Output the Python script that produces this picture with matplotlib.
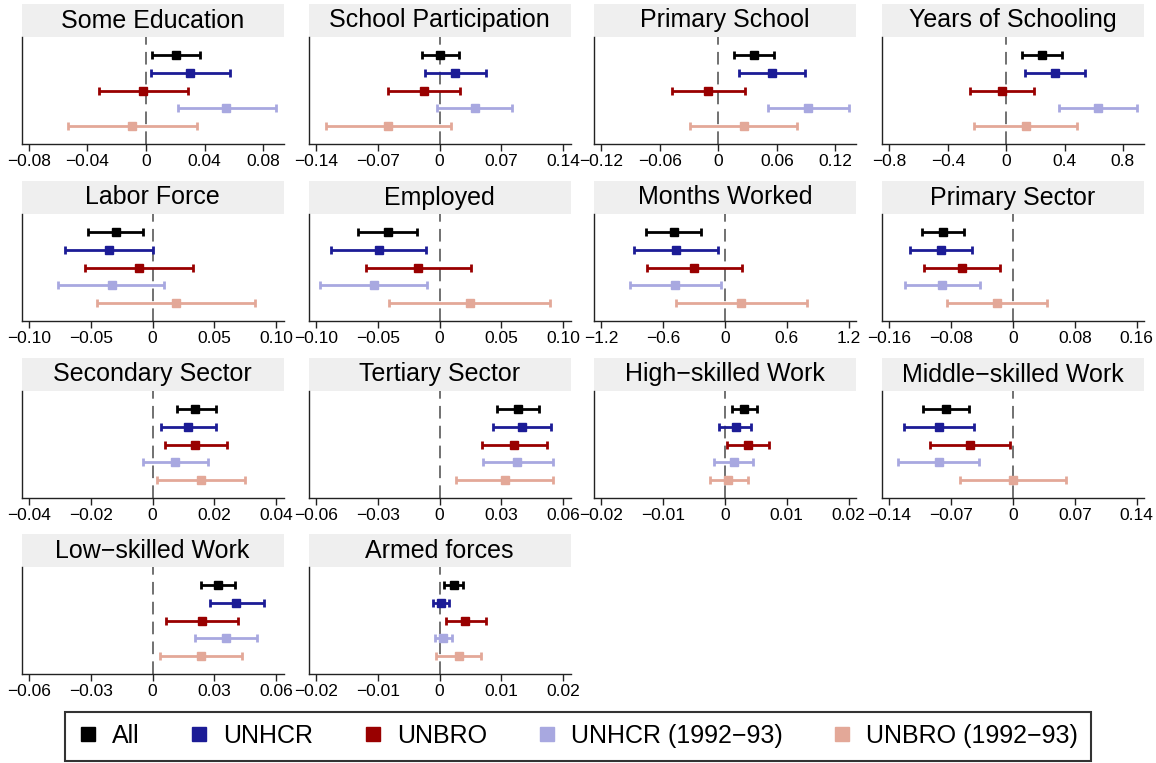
import numpy as np
import matplotlib
matplotlib.use("Agg")
import matplotlib.pyplot as plt
from matplotlib.patches import Rectangle
from matplotlib.lines import Line2D

plt.rcParams['font.family'] = ['Liberation Sans', 'DejaVu Sans']

# ---- data (estimate, lower, upper) per outcome, series in order below ----
series = ["All", "UNHCR", "UNBRO", "UNHCR (1992\u221293)", "UNBRO (1992\u221293)"]
colors = ["#000000", "#1c1c96", "#990000", "#a8a8e0", "#e3a898"]

titles = ["Some Education", "School Participation", "Primary School", "Years of Schooling",
          "Labor Force", "Employed", "Months Worked", "Primary Sector",
          "Secondary Sector", "Tertiary Sector", "High\u2212skilled Work", "Middle\u2212skilled Work",
          "Low\u2212skilled Work", "Armed forces"]

tick_max = [0.08, 0.14, 0.12, 0.8,
            0.10, 0.10, 1.2, 0.16,
            0.04, 0.06, 0.02, 0.14,
            0.06, 0.02]
tick_dec = [2, 2, 2, 1,
            2, 2, 1, 2,
            2, 2, 2, 2,
            2, 2]

est = [
    [0.0206, 0.0304, -0.0020, 0.0550, -0.0096],
    [0.0008, 0.0178, -0.0173, 0.0398, -0.0580],
    [0.0362, 0.0546, -0.0103, 0.0923, 0.0260],
    [0.247, 0.336, -0.031, 0.627, 0.135],
    [-0.0294, -0.0349, -0.0109, -0.0331, 0.0194],
    [-0.0420, -0.0492, -0.0172, -0.0532, 0.0245],
    [-0.494, -0.476, -0.299, -0.483, 0.159],
    [-0.0901, -0.0935, -0.0660, -0.0916, -0.0212],
    [0.0139, 0.0116, 0.0139, 0.0074, 0.0156],
    [0.0382, 0.0402, 0.0362, 0.0376, 0.0318],
    [0.0030, 0.0017, 0.0038, 0.0014, 0.0005],
    [-0.0759, -0.0843, -0.0485, -0.0843, 0.0000],
    [0.0318, 0.0405, 0.0242, 0.0356, 0.0235],
    [0.0023, 0.0002, 0.0042, 0.0006, 0.0031],
]
lower = [
    [0.0043, 0.0036, -0.0320, 0.0218, -0.0536],
    [-0.0203, -0.0160, -0.0580, -0.0030, -0.1290],
    [0.0156, 0.0210, -0.0480, 0.0511, -0.0290],
    [0.112, 0.130, -0.250, 0.362, -0.217],
    [-0.0522, -0.0704, -0.0543, -0.0762, -0.0449],
    [-0.0662, -0.0879, -0.0598, -0.0964, -0.0411],
    [-0.764, -0.879, -0.757, -0.926, -0.479],
    [-0.1176, -0.1330, -0.1147, -0.1402, -0.0853],
    [0.0078, 0.0028, 0.0041, -0.0032, 0.0013],
    [0.0278, 0.0260, 0.0205, 0.0209, 0.0082],
    [0.0011, -0.0009, 0.0004, -0.0017, -0.0025],
    [-0.1016, -0.1240, -0.0940, -0.1303, -0.0603],
    [0.0235, 0.0280, 0.0067, 0.0204, 0.0036],
    [0.0008, -0.0010, 0.0010, -0.0008, -0.0005],
]
upper = [
    [0.0370, 0.0572, 0.0284, 0.0889, 0.0349],
    [0.0220, 0.0524, 0.0233, 0.0825, 0.0127],
    [0.0572, 0.0889, 0.0271, 0.1335, 0.0805],
    [0.382, 0.543, 0.189, 0.894, 0.484],
    [-0.0073, 0.0003, 0.0325, 0.0097, 0.0831],
    [-0.0181, -0.0106, 0.0254, -0.0100, 0.0897],
    [-0.231, -0.072, 0.166, -0.036, 0.800],
    [-0.0636, -0.0525, -0.0169, -0.0424, 0.0438],
    [0.0204, 0.0207, 0.0240, 0.0179, 0.0298],
    [0.0484, 0.0542, 0.0522, 0.0551, 0.0551],
    [0.0051, 0.0042, 0.0072, 0.0046, 0.0037],
    [-0.0502, -0.0447, -0.0030, -0.0380, 0.0595],
    [0.0402, 0.0540, 0.0415, 0.0509, 0.0436],
    [0.0038, 0.0015, 0.0075, 0.0021, 0.0067],
]


def fmt(v, d):
    if abs(v) < 1e-12:
        return "0"
    s = f"{abs(v):.{d}f}"
    return ("\u2212" + s) if v < 0 else s


W, H = 1156, 763
fig = plt.figure(figsize=(W / 100, H / 100), dpi=100)

col_x = [21.5, 308.5, 594, 882]
ax_w = 262
row_top = [37, 214, 391, 567]
ax_h = 107
strip_h = 33

for k, title in enumerate(titles):
    r, c = divmod(k, 4)
    ax = fig.add_axes([col_x[c] / W, 1 - (row_top[r] + ax_h) / H, ax_w / W, ax_h / H])
    e = np.array(est[k])
    lo = np.array(lower[k])
    hi = np.array(upper[k])
    ypos = np.arange(1, len(series) + 1)
    for i in range(len(series)):
        ax.errorbar(e[i], ypos[i], xerr=[[e[i] - lo[i]], [hi[i] - e[i]]],
                    fmt='s', color=colors[i], ms=5.5, elinewidth=2.0,
                    capsize=2.6, capthick=2.0, zorder=3)
    ax.axvline(0, color="#666666", lw=1.3, ls=(0, (7, 4)), zorder=1)

    tm = tick_max[k]
    ticks = np.array([-tm, -tm / 2, 0, tm / 2, tm])
    xl = min(ticks[0], lo.min())
    xh = max(ticks[-1], hi.max())
    pad = 0.03 * (xh - xl)
    ax.set_xlim(xl - pad, xh + pad)
    ax.set_xticks(ticks)
    ax.set_xticklabels([fmt(t, tick_dec[k]) for t in ticks], fontsize=12.5)
    ax.set_ylim(6, 0)
    ax.set_yticks([])
    for s in ["top", "right"]:
        ax.spines[s].set_visible(False)
    for s in ["left", "bottom"]:
        ax.spines[s].set_color("#222222")
        ax.spines[s].set_linewidth(1.0)
    ax.tick_params(axis="x", length=5, width=1.0, color="#222222", pad=2)

    # title strip
    ax.add_patch(Rectangle((0, 1), 1, strip_h / ax_h, transform=ax.transAxes,
                           facecolor="#efefef", edgecolor="none", clip_on=False))
    ax.text(0.5, 1 + strip_h / ax_h / 2, title, transform=ax.transAxes,
            ha="center", va="center", fontsize=18)

handles = [Line2D([], [], ls="none", marker="s", ms=10, color=col) for col in colors]
leg = fig.legend(handles, series, loc="center", ncol=5,
                 bbox_to_anchor=(578 / W, 1 - 736 / H), fontsize=18,
                 frameon=True, fancybox=False, edgecolor="black",
                 handlelength=0.8, handletextpad=0.55, columnspacing=2.0,
                 borderpad=0.5)
leg.get_frame().set_linewidth(1.5)

fig.savefig("out.png", dpi=100)
